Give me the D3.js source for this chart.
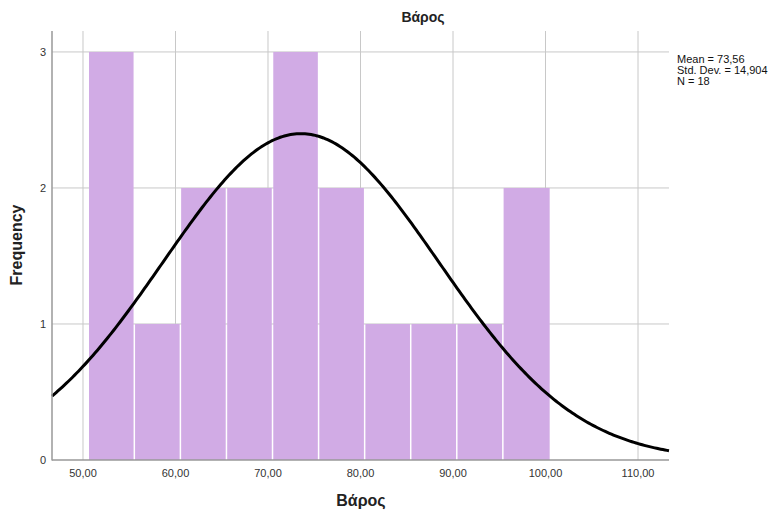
<!DOCTYPE html>
<html>
<head>
<meta charset="utf-8">
<script src="https://cdn.jsdelivr.net/npm/d3@7"></script>
<style>
  body { margin: 0; background: #fff; }
  text { font-family: "Liberation Sans", Arial, sans-serif; }
</style>
</head>
<body>
<svg width="772" height="517"></svg>
<script>
// histogram of Βάρος
const binStart = 50.65;
const binWidth = 4.98;
const counts = [3, 1, 2, 2, 3, 2, 1, 1, 1, 2];
const xTicks = [50, 60, 70, 80, 90, 100, 110];
const yTicks = [0, 1, 2, 3];
const stats = ["Mean = 73,56", "Std. Dev. = 14,904", "N = 18"];
const mean = 73.56, sd = 14.904, n = 18;

const svg = d3.select("svg");
const m = { left: 52, right: 669, top: 31, bottom: 460 };

const x = d3.scaleLinear().domain([46.65, 113.35]).range([m.left, m.right]);
const y = d3.scaleLinear().domain([0, 3.154]).range([m.bottom, m.top]);

const fmt = d => d.toFixed(2).replace(".", ",");

// grid
svg.append("g").selectAll("line").data(xTicks).enter().append("line")
    .attr("x1", d => x(d)).attr("x2", d => x(d))
    .attr("y1", m.top).attr("y2", m.bottom)
    .attr("stroke", "#c8c8c8").attr("stroke-width", 1);
svg.append("g").selectAll("line").data(yTicks.slice(1)).enter().append("line")
    .attr("x1", m.left).attr("x2", m.right)
    .attr("y1", d => y(d)).attr("y2", d => y(d))
    .attr("stroke", "#c8c8c8").attr("stroke-width", 1);

// bars
const bins = counts.map((c, i) => ({ x0: binStart + i * binWidth, x1: binStart + (i + 1) * binWidth, c }));
svg.append("g").selectAll("rect").data(bins).enter().append("rect")
    .attr("x", d => x(d.x0))
    .attr("width", d => x(d.x1) - x(d.x0) - (d.x1 < 100 ? 1.5 : 0))
    .attr("y", d => y(d.c))
    .attr("height", d => y(0) - y(d.c))
    .attr("fill", "#d1abe5");

// normal curve
const scaleK = n * binWidth;
const pts = d3.range(0, 301).map(i => {
  const v = 46.65 + i * (113.35 - 46.65) / 300;
  const z = (v - mean) / sd;
  return [v, scaleK * Math.exp(-0.5 * z * z) / (sd * Math.sqrt(2 * Math.PI))];
});
svg.append("path")
    .datum(pts)
    .attr("fill", "none")
    .attr("stroke", "#000")
    .attr("stroke-width", 3)
    .attr("d", d3.line().x(d => x(d[0])).y(d => y(d[1])));

// axes
svg.append("line").attr("x1", m.left).attr("x2", m.left)
    .attr("y1", m.top).attr("y2", m.bottom + 0.5)
    .attr("stroke", "#999").attr("stroke-width", 1.5);
svg.append("line").attr("x1", m.left).attr("x2", m.right)
    .attr("y1", m.bottom).attr("y2", m.bottom)
    .attr("stroke", "#999").attr("stroke-width", 1.5);

svg.append("g").selectAll("text").data(xTicks).enter().append("text")
    .attr("x", d => x(d)).attr("y", m.bottom + 17)
    .attr("text-anchor", "middle")
    .attr("font-size", 11).attr("fill", "#333")
    .text(fmt);
svg.append("g").selectAll("text").data(yTicks).enter().append("text")
    .attr("x", m.left - 6).attr("y", d => y(d) + 4)
    .attr("text-anchor", "end")
    .attr("font-size", 11).attr("fill", "#333")
    .text(d => d);

// titles
svg.append("text").attr("x", 423).attr("y", 22)
    .attr("text-anchor", "middle").attr("font-size", 14).attr("font-weight", "bold")
    .attr("fill", "#222").text("Βάρος");
svg.append("text").attr("x", 361).attr("y", 506)
    .attr("text-anchor", "middle").attr("font-size", 16).attr("font-weight", "bold")
    .attr("fill", "#222").text("Βάρος");
svg.append("text").attr("transform", "translate(22,245) rotate(-90)")
    .attr("text-anchor", "middle").attr("font-size", 16).attr("font-weight", "bold")
    .attr("fill", "#222").text("Frequency");

// stats box
svg.append("g").selectAll("text").data(stats).enter().append("text")
    .attr("x", 677).attr("y", (d, i) => 63 + i * 11)
    .attr("font-size", 11).attr("fill", "#111")
    .text(d => d);
</script>
</body>
</html>
